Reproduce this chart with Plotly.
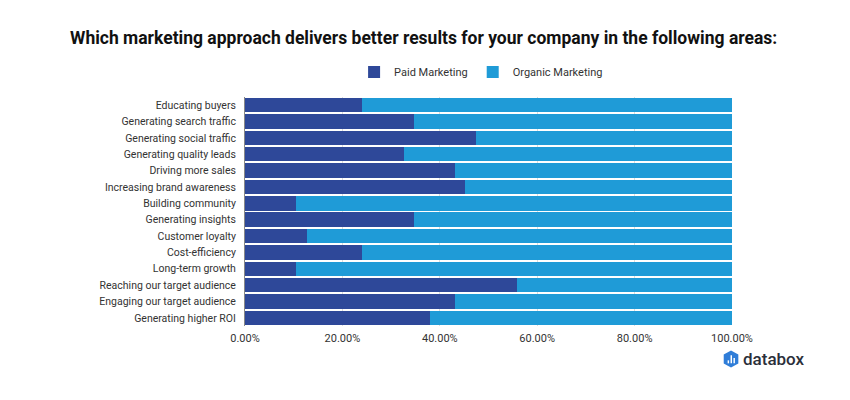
import plotly.graph_objects as go

categories = [
    "Educating buyers",
    "Generating search traffic",
    "Generating social traffic",
    "Generating quality leads",
    "Driving more sales",
    "Increasing brand awareness",
    "Building community",
    "Generating insights",
    "Customer loyalty",
    "Cost-efficiency",
    "Long-term growth",
    "Reaching our target audience",
    "Engaging our target audience",
    "Generating higher ROI",
]
paid = [24.1, 34.6, 47.4, 32.6, 43.1, 45.1, 10.4, 34.6, 12.7, 24.1, 10.4, 55.8, 43.1, 37.9]
organic = [round(100 - p, 1) for p in paid]
tick_vals = [0, 20, 40, 60, 80, 100]

PAID_COLOR = "#2E4899"
ORG_COLOR = "#1F9BD7"
FONT = "Roboto"

fig = go.Figure()
fig.add_trace(go.Bar(y=categories, x=paid, orientation="h", name="Paid Marketing",
                     marker=dict(color=PAID_COLOR, line=dict(width=0))))
fig.add_trace(go.Bar(y=categories, x=organic, orientation="h", name="Organic Marketing",
                     marker=dict(color=ORG_COLOR, line=dict(width=0))))

fig.update_layout(
    width=850, height=400,
    barmode="stack", bargap=0.12,
    paper_bgcolor="white", plot_bgcolor="white",
    margin=dict(l=237, r=126, t=89, b=82),
    font=dict(family=FONT, size=11, color="#333333"),
    title=dict(text="<b>Which marketing approach delivers better results for your company in the following areas:</b>",
               x=0.489, xanchor="center", y=0.925, yanchor="middle",
               font=dict(family=FONT, size=17.5, color="#111111")),
    legend=dict(orientation="h", x=0.224, xanchor="left", y=1.109, yanchor="middle",
                font=dict(family=FONT, size=11, color="#333333"), traceorder="normal",
                itemclick=False),
    xaxis=dict(range=[0, 100], tickvals=tick_vals, ticktext=[f"{v:.2f}%" for v in tick_vals],
               showgrid=True, gridcolor="#DDDDDD", gridwidth=1, zeroline=False,
               showline=False, ticks="", ticklabelstandoff=4,
               tickfont=dict(size=11, color="#333333")),
    yaxis=dict(autorange="reversed", showline=True, linecolor="#888888", linewidth=1,
               ticks="", ticklabelstandoff=6, tickfont=dict(size=10.5, color="#333333")),
)

# databox logo (decorative)
fig.add_shape(type="path", xref="paper", yref="paper",
              path="M 0.998 -0.107 L 1.013 -0.124 L 1.013 -0.164 L 0.998 -0.181 L 0.983 -0.164 L 0.983 -0.124 Z",
              fillcolor="#2F7DD8", line=dict(width=0))
for x0, y1 in [(0.991, -0.150), (0.997, -0.128), (1.003, -0.140)]:
    fig.add_shape(type="rect", xref="paper", yref="paper",
                  x0=x0, x1=x0 + 0.003, y0=-0.163, y1=y1,
                  fillcolor="white", line=dict(width=0))
fig.add_annotation(text="databox", xref="paper", yref="paper", x=1.019, y=-0.142,
                   xanchor="left", yanchor="middle", showarrow=False,
                   font=dict(family=FONT, size=17, color="#2B2F3A", weight=500))

fig.write_html("out.html")
